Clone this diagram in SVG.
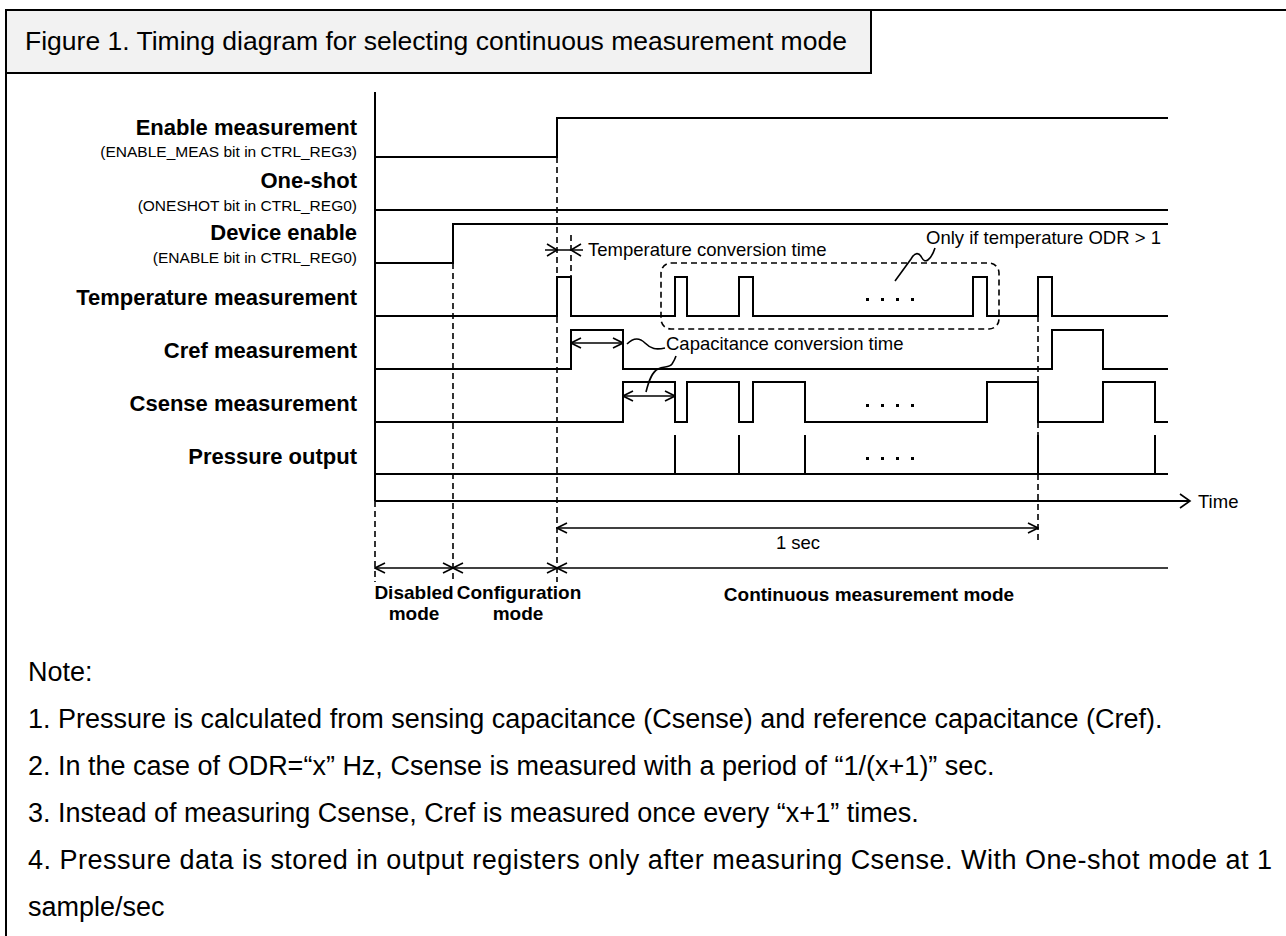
<svg xmlns="http://www.w3.org/2000/svg" width="1286" height="936" viewBox="0 0 1286 936">
<defs>
<style>
.sig{fill:none;stroke:#000;stroke-width:2}
.thin{fill:none;stroke:#000;stroke-width:1.6}
.dash{fill:none;stroke:#000;stroke-width:1.6;stroke-dasharray:6,4}
.lbl{font-family:"Liberation Sans",Arial,sans-serif;font-weight:bold;font-size:22px;fill:#000;text-anchor:end}
.sub{font-family:"Liberation Sans",Arial,sans-serif;font-size:15.5px;fill:#000;text-anchor:end}
.ann{font-family:"Liberation Sans",Arial,sans-serif;font-size:18.5px;fill:#000}
.mode{font-family:"Liberation Sans",Arial,sans-serif;font-weight:bold;font-size:19px;fill:#000;text-anchor:middle}
.note{font-family:"Liberation Sans",Arial,sans-serif;font-size:27px;fill:#000}
</style>
<marker id="ah" viewBox="0 0 12 12" refX="11" refY="6" markerWidth="12" markerHeight="12" markerUnits="userSpaceOnUse" orient="auto-start-reverse">
<path d="M1,1 L11,6 L1,11" fill="none" stroke="#000" stroke-width="1.6"/>
</marker>
</defs>
<rect width="1286" height="936" fill="#fff"/>
<g id="frame">
<line x1="6" y1="10" x2="1286" y2="10" stroke="#000" stroke-width="2"/>
<line x1="6" y1="10" x2="6" y2="936" stroke="#000" stroke-width="2"/>
<rect x="6" y="10" width="865" height="63" fill="#f2f2f2" stroke="#000" stroke-width="2"/>
<text x="25" y="50" font-family="Liberation Sans, Arial, sans-serif" font-size="26.5">Figure 1. Timing diagram for selecting continuous measurement mode</text>
</g>
<g id="axis">
<line class="sig" x1="375" y1="92" x2="375" y2="501"/>
</g>
<g id="enable-measurement">
<text class="lbl" x="357" y="135">Enable measurement</text>
<text class="sub" x="357" y="157">(ENABLE_MEAS bit in CTRL_REG3)</text>
<path class="sig" d="M375,157 H557 V118 H1168"/>
</g>
<g id="one-shot">
<text class="lbl" x="357" y="188">One-shot</text>
<text class="sub" x="357" y="211">(ONESHOT bit in CTRL_REG0)</text>
<path class="sig" d="M375,210 H1168"/>
</g>
<g id="device-enable">
<text class="lbl" x="357" y="240">Device enable</text>
<text class="sub" x="357" y="263">(ENABLE bit in CTRL_REG0)</text>
<path class="sig" d="M375,263 H453 V224 H1168"/>
</g>
<g id="temperature">
<text class="lbl" x="357" y="305">Temperature measurement</text>
<path class="sig" d="M375,316 H557 V277 H571 V316 H675 V277 H687 V316 H739 V277 H753 V316 H973 V277 H987 V316 H1038 V277 H1052 V316 H1168"/>
<g fill="#000"><rect x="866" y="298" width="3" height="3"/><rect x="881" y="298" width="3" height="3"/><rect x="896" y="298" width="3" height="3"/><rect x="911" y="298" width="3" height="3"/></g>
</g>
<g id="cref">
<text class="lbl" x="357" y="358">Cref measurement</text>
<path class="sig" d="M375,369 H571 V330 H623 V369 H1052 V330 H1103 V369 H1168"/>
</g>
<g id="csense">
<text class="lbl" x="357" y="411">Csense measurement</text>
<path class="sig" d="M375,422 H623 V382 H675 V422 H687 V382 H739 V422 H753 V382 H805 V422 H987 V382 H1038 V422 H1103 V382 H1155 V422 H1168"/>
<g fill="#000"><rect x="866" y="404" width="3" height="3"/><rect x="881" y="404" width="3" height="3"/><rect x="896" y="404" width="3" height="3"/><rect x="911" y="404" width="3" height="3"/></g>
</g>
<g id="pressure">
<text class="lbl" x="357" y="464">Pressure output</text>
<path class="sig" d="M375,474 H1168 M675,435 V474 M739,435 V474 M805,435 V474 M1038,435 V474 M1155,435 V474"/>
<g fill="#000"><rect x="866" y="457" width="3" height="3"/><rect x="881" y="457" width="3" height="3"/><rect x="896" y="457" width="3" height="3"/><rect x="911" y="457" width="3" height="3"/></g>
</g>
<g id="time-axis">
<line class="sig" x1="375" y1="501" x2="1190" y2="501"/>
<path class="thin" d="M1180,494 L1190,501 L1180,508"/>
<text class="ann" x="1198" y="508">Time</text>
</g>
<g id="odr-box">
<rect class="dash" x="661" y="263" width="338" height="66" rx="10"/>
<text class="ann" x="926" y="244">Only if temperature ODR &gt; 1</text>
</g>
<g id="connectors">
<path class="dash" d="M453,263 V582 M557,157 V582 M375,501 V582 M571,235 V277 M1038,316 V382 M1038,422 V435 M1038,474 V540"/>
<line class="thin" x1="545" y1="250" x2="583" y2="250"/>
<path class="thin" d="M547,244 L557,250 L547,256 M581,244 L571,250 L581,256"/>
<text class="ann" x="588" y="256">Temperature conversion time</text>
<path class="thin" d="M895,281 L911,259 C915,252 919,252 922,258 C925,264 931,260 935,248"/>
<line class="thin" x1="571" y1="343" x2="623" y2="343" marker-start="url(#ah)" marker-end="url(#ah)"/>
<line class="thin" x1="623" y1="396" x2="675" y2="396" marker-start="url(#ah)" marker-end="url(#ah)"/>
<path class="thin" d="M627,344 C634,337 640,338 645,343 C651,349 656,350 665,348"/>
<path class="thin" d="M646,392 C649,380 652,372 658,369 C664,366 669,368 672,364 C674,361 675,359 676,356"/>
<text class="ann" x="666" y="350">Capacitance conversion time</text>
<line class="thin" x1="557" y1="528" x2="1038" y2="528" marker-start="url(#ah)" marker-end="url(#ah)"/>
<text class="ann" x="798" y="549" text-anchor="middle">1 sec</text>
<line class="thin" x1="375" y1="568" x2="453" y2="568" marker-start="url(#ah)" marker-end="url(#ah)"/>
<line class="thin" x1="453" y1="568" x2="557" y2="568" marker-start="url(#ah)" marker-end="url(#ah)"/>
<line class="thin" x1="557" y1="568" x2="1168" y2="568" marker-start="url(#ah)"/>
</g>
<g id="modes">
<text class="mode" x="414" y="599">Disabled</text>
<text class="mode" x="414" y="620">mode</text>
<text class="mode" x="519" y="599">Configuration</text>
<text class="mode" x="518" y="620">mode</text>
<text class="mode" x="869" y="601">Continuous measurement mode</text>
</g>
<g id="notes">
<text class="note" x="28" y="681">Note:</text>
<text class="note" x="28" y="728">1. Pressure is calculated from sensing capacitance (Csense) and reference capacitance (Cref).</text>
<text class="note" x="28" y="775">2. In the case of ODR=“x” Hz, Csense is measured with a period of “1/(x+1)” sec.</text>
<text class="note" x="28" y="822">3. Instead of measuring Csense, Cref is measured once every “x+1” times.</text>
<text class="note" x="28" y="869" textLength="1244" lengthAdjust="spacing">4. Pressure data is stored in output registers only after measuring Csense. With One-shot mode at 1</text>
<text class="note" x="28" y="916">sample/sec</text>
</g>
</svg>
